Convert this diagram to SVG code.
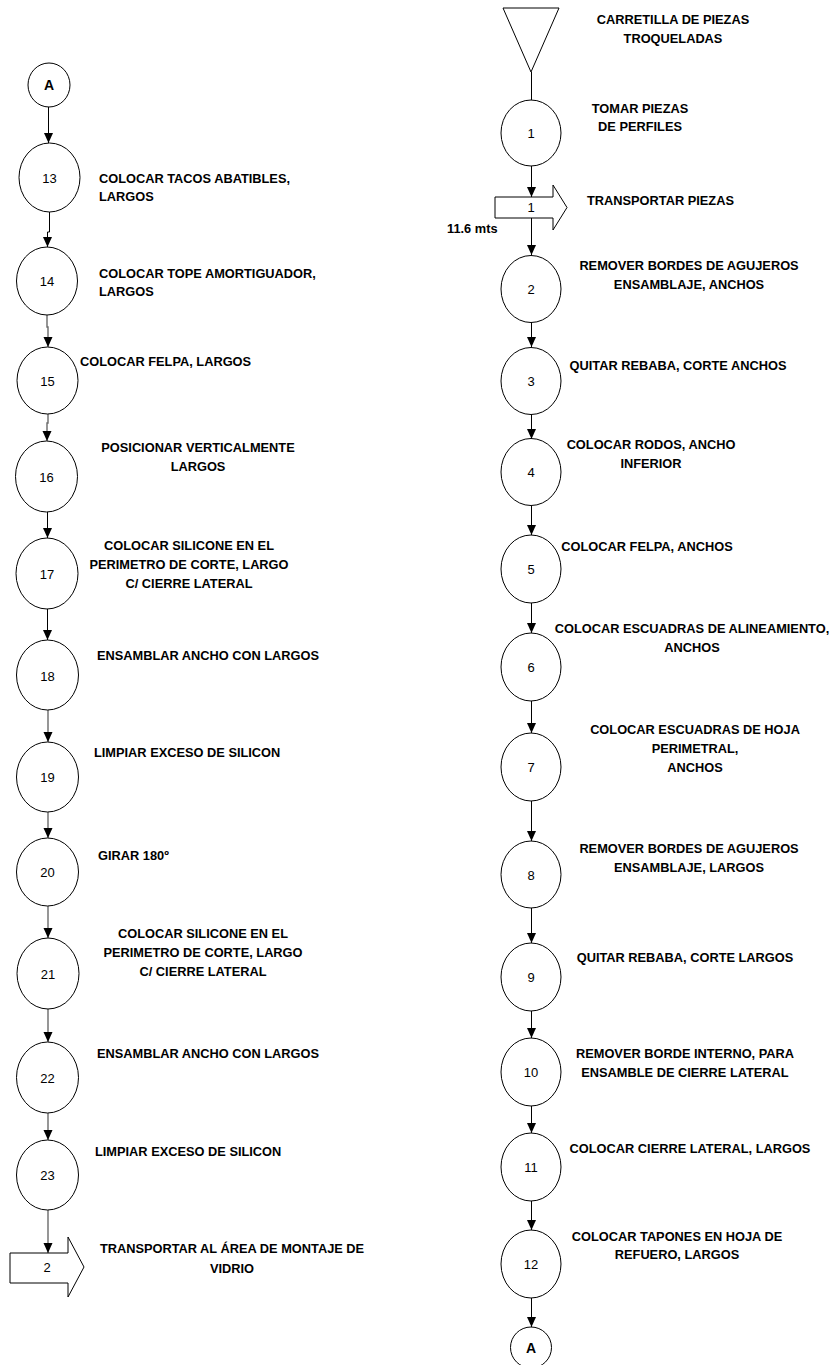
<svg xmlns="http://www.w3.org/2000/svg" width="833" height="1365" viewBox="0 0 833 1365">
  <defs>
    <marker id="arrow" markerUnits="userSpaceOnUse" markerWidth="10" markerHeight="10" refX="10" refY="5" orient="auto">
      <path d="M0,0.5 L10,5 L0,9.5 z" fill="#000"/>
    </marker>
    <style>
      .shape { fill: #fff; stroke: #000; stroke-width: 1; }
      .num { font-family: "Liberation Sans", Arial, sans-serif; font-size: 13px; fill: #000; text-anchor: middle; }
      .conn { font-family: "Liberation Sans", Arial, sans-serif; font-size: 14px; font-weight: bold; fill: #000; text-anchor: middle; }
      .lbl { font-family: "Liberation Sans", Arial, sans-serif; font-size: 12.8px; font-weight: bold; fill: #000; }
      .mid { text-anchor: middle; }
      .edge { fill: none; stroke: #000; stroke-width: 1; marker-end: url(#arrow); }
      .soft { stroke: #6a6a6a; stroke-width: 1.4; }
      .plain { fill: none; stroke: #000; stroke-width: 1; }
    </style>
  </defs>
  <rect width="833" height="1365" fill="#fff"/>

  <!-- connectors -->
  <g id="connectors">
    <!-- right column -->
    <line class="plain" x1="531.5" y1="72" x2="531.5" y2="100"/>
    <line class="edge" x1="531.5" y1="166" x2="531.5" y2="197"/>
    <line class="edge" x1="531.5" y1="218" x2="531.5" y2="255"/>
    <line class="edge" x1="531.5" y1="322" x2="531.5" y2="347"/>
    <line class="edge" x1="531.5" y1="414" x2="531.5" y2="439"/>
    <line class="edge" x1="531.5" y1="506" x2="531.5" y2="535"/>
    <line class="edge" x1="531.5" y1="603" x2="531.5" y2="633"/>
    <line class="edge" x1="531.5" y1="701" x2="531.5" y2="733"/>
    <line class="edge" x1="531.5" y1="801" x2="531.5" y2="841"/>
    <line class="edge" x1="531.5" y1="908" x2="531.5" y2="943"/>
    <line class="edge" x1="531.5" y1="1011" x2="531.5" y2="1038"/>
    <line class="edge" x1="531.5" y1="1106" x2="531.5" y2="1133"/>
    <line class="edge" x1="531.5" y1="1201" x2="531.5" y2="1230"/>
    <line class="edge" x1="531.5" y1="1298" x2="531.5" y2="1327"/>
    <!-- left column -->
    <line class="edge" x1="48.5" y1="107" x2="48.5" y2="143"/>
    <polyline class="edge" points="49.5,212 49.5,232 47.5,232 47.5,247"/>
    <polyline class="edge soft" points="47,315 47,327 48,327 48,347"/>
    <polyline class="edge soft" points="48,414 48,423 47,423 47,441"/>
    <line class="edge" x1="47.5" y1="512" x2="47.5" y2="538"/>
    <line class="edge" x1="47.5" y1="609" x2="47.5" y2="640"/>
    <line class="edge soft" x1="48" y1="710" x2="48" y2="742"/>
    <line class="edge soft" x1="48" y1="812" x2="48" y2="838"/>
    <line class="edge soft" x1="48" y1="906" x2="48" y2="938"/>
    <line class="edge soft" x1="48" y1="1009" x2="48" y2="1042"/>
    <line class="edge soft" x1="48" y1="1113" x2="48" y2="1140"/>
    <line class="edge soft" x1="48" y1="1210" x2="48" y2="1253"/>
  </g>

  <!-- right column -->
  <g id="storage-start">
    <polygon class="shape" points="503,8 559,8 531,72"/>
    <text class="lbl mid" x="673" y="24">CARRETILLA DE PIEZAS</text>
    <text class="lbl mid" x="673" y="43">TROQUELADAS</text>
  </g>
  <g id="op-1">
    <ellipse class="shape" cx="531" cy="133" rx="30" ry="33"/>
    <text class="num" x="531" y="138">1</text>
    <text class="lbl mid" x="640" y="113">TOMAR PIEZAS</text>
    <text class="lbl mid" x="640" y="131">DE PERFILES</text>
  </g>
  <g id="transport-1">
    <polygon class="shape" points="495,197 553,197 553,185 567,207.5 553,230 553,218 495,218"/>
    <text class="num" x="531" y="212">1</text>
    <text class="lbl" x="587" y="205">TRANSPORTAR PIEZAS</text>
    <text class="lbl" x="447" y="233">11.6 mts</text>
  </g>
  <g id="op-2">
    <ellipse class="shape" cx="531" cy="289" rx="30" ry="33.5"/>
    <text class="num" x="531" y="294">2</text>
    <text class="lbl mid" x="689" y="270">REMOVER BORDES DE AGUJEROS</text>
    <text class="lbl mid" x="689" y="289">ENSAMBLAJE, ANCHOS</text>
  </g>
  <g id="op-3">
    <ellipse class="shape" cx="531" cy="381" rx="30" ry="33.5"/>
    <text class="num" x="531" y="386">3</text>
    <text class="lbl mid" x="678" y="370">QUITAR REBABA, CORTE ANCHOS</text>
  </g>
  <g id="op-4">
    <ellipse class="shape" cx="531" cy="472" rx="30" ry="33.5"/>
    <text class="num" x="531" y="477">4</text>
    <text class="lbl mid" x="651" y="449">COLOCAR RODOS, ANCHO</text>
    <text class="lbl mid" x="651" y="468">INFERIOR</text>
  </g>
  <g id="op-5">
    <ellipse class="shape" cx="531" cy="569" rx="30" ry="34"/>
    <text class="num" x="531" y="574">5</text>
    <text class="lbl mid" x="647" y="551">COLOCAR FELPA, ANCHOS</text>
  </g>
  <g id="op-6">
    <ellipse class="shape" cx="531" cy="667" rx="30" ry="34"/>
    <text class="num" x="531" y="672">6</text>
    <text class="lbl mid" x="692" y="633">COLOCAR ESCUADRAS DE ALINEAMIENTO,</text>
    <text class="lbl mid" x="692" y="652">ANCHOS</text>
  </g>
  <g id="op-7">
    <ellipse class="shape" cx="531" cy="767" rx="30" ry="34"/>
    <text class="num" x="531" y="772">7</text>
    <text class="lbl mid" x="695" y="734">COLOCAR ESCUADRAS DE HOJA</text>
    <text class="lbl mid" x="695" y="753">PERIMETRAL,</text>
    <text class="lbl mid" x="695" y="772">ANCHOS</text>
  </g>
  <g id="op-8">
    <ellipse class="shape" cx="531" cy="874.5" rx="30" ry="33.5"/>
    <text class="num" x="531" y="880">8</text>
    <text class="lbl mid" x="689" y="853">REMOVER BORDES DE AGUJEROS</text>
    <text class="lbl mid" x="689" y="872">ENSAMBLAJE, LARGOS</text>
  </g>
  <g id="op-9">
    <ellipse class="shape" cx="531" cy="977" rx="30" ry="34"/>
    <text class="num" x="531" y="982">9</text>
    <text class="lbl mid" x="685" y="962">QUITAR REBABA, CORTE LARGOS</text>
  </g>
  <g id="op-10">
    <ellipse class="shape" cx="531" cy="1072" rx="30" ry="34"/>
    <text class="num" x="531" y="1077">10</text>
    <text class="lbl mid" x="685" y="1058">REMOVER BORDE INTERNO, PARA</text>
    <text class="lbl mid" x="685" y="1077">ENSAMBLE DE CIERRE LATERAL</text>
  </g>
  <g id="op-11">
    <ellipse class="shape" cx="531" cy="1167" rx="30" ry="34"/>
    <text class="num" x="531" y="1172">11</text>
    <text class="lbl mid" x="690" y="1153">COLOCAR CIERRE LATERAL, LARGOS</text>
  </g>
  <g id="op-12">
    <ellipse class="shape" cx="531" cy="1264" rx="30" ry="34"/>
    <text class="num" x="531" y="1269">12</text>
    <text class="lbl mid" x="677" y="1241">COLOCAR TAPONES EN HOJA DE</text>
    <text class="lbl mid" x="677" y="1259">REFUERO, LARGOS</text>
  </g>
  <g id="connector-a-out">
    <ellipse class="shape" cx="531" cy="1347.5" rx="20.5" ry="20.5"/>
    <text class="conn" x="531" y="1353">A</text>
  </g>

  <!-- left column -->
  <g id="connector-a-in">
    <ellipse class="shape" cx="49" cy="85" rx="21" ry="22"/>
    <text class="conn" x="49" y="90">A</text>
  </g>
  <g id="op-13">
    <ellipse class="shape" cx="49.5" cy="177.5" rx="30.5" ry="34.5"/>
    <text class="num" x="49.5" y="183">13</text>
    <text class="lbl" x="99" y="183">COLOCAR TACOS ABATIBLES,</text>
    <text class="lbl" x="99" y="201">LARGOS</text>
  </g>
  <g id="op-14">
    <ellipse class="shape" cx="47" cy="281" rx="30.5" ry="34"/>
    <text class="num" x="47" y="286">14</text>
    <text class="lbl" x="99" y="278">COLOCAR TOPE AMORTIGUADOR,</text>
    <text class="lbl" x="99" y="296">LARGOS</text>
  </g>
  <g id="op-15">
    <ellipse class="shape" cx="47.5" cy="380.5" rx="30.5" ry="33.5"/>
    <text class="num" x="47.5" y="386">15</text>
    <text class="lbl" x="80" y="366">COLOCAR FELPA, LARGOS</text>
  </g>
  <g id="op-16">
    <ellipse class="shape" cx="46.5" cy="476.5" rx="31" ry="35.5"/>
    <text class="num" x="46.5" y="482">16</text>
    <text class="lbl mid" x="198" y="452">POSICIONAR VERTICALMENTE</text>
    <text class="lbl mid" x="198" y="471">LARGOS</text>
  </g>
  <g id="op-17">
    <ellipse class="shape" cx="47" cy="573.5" rx="31" ry="35.5"/>
    <text class="num" x="47" y="579">17</text>
    <text class="lbl mid" x="189" y="550">COLOCAR SILICONE EN EL</text>
    <text class="lbl mid" x="189" y="569">PERIMETRO DE CORTE, LARGO</text>
    <text class="lbl mid" x="189" y="588">C/ CIERRE LATERAL</text>
  </g>
  <g id="op-18">
    <ellipse class="shape" cx="47.5" cy="675" rx="31" ry="35"/>
    <text class="num" x="47.5" y="681">18</text>
    <text class="lbl" x="97" y="660">ENSAMBLAR ANCHO CON LARGOS</text>
  </g>
  <g id="op-19">
    <ellipse class="shape" cx="47.5" cy="777" rx="31" ry="35"/>
    <text class="num" x="47.5" y="782">19</text>
    <text class="lbl" x="94" y="757">LIMPIAR EXCESO DE SILICON</text>
  </g>
  <g id="op-20">
    <ellipse class="shape" cx="47.5" cy="872" rx="31" ry="34"/>
    <text class="num" x="47.5" y="877">20</text>
    <text class="lbl" x="98" y="860">GIRAR 180º</text>
  </g>
  <g id="op-21">
    <ellipse class="shape" cx="48" cy="973.5" rx="31" ry="35.5"/>
    <text class="num" x="48" y="979">21</text>
    <text class="lbl mid" x="203" y="938">COLOCAR SILICONE EN EL</text>
    <text class="lbl mid" x="203" y="957">PERIMETRO DE CORTE, LARGO</text>
    <text class="lbl mid" x="203" y="976">C/ CIERRE LATERAL</text>
  </g>
  <g id="op-22">
    <ellipse class="shape" cx="47.5" cy="1077.5" rx="31" ry="35.5"/>
    <text class="num" x="47.5" y="1083">22</text>
    <text class="lbl" x="97" y="1058">ENSAMBLAR ANCHO CON LARGOS</text>
  </g>
  <g id="op-23">
    <ellipse class="shape" cx="47.5" cy="1175" rx="31" ry="35"/>
    <text class="num" x="47.5" y="1180">23</text>
    <text class="lbl" x="95" y="1156">LIMPIAR EXCESO DE SILICON</text>
  </g>
  <g id="transport-2">
    <polygon class="shape" points="10,1253 68,1253 68,1237 84,1267 68,1297 68,1283 10,1283"/>
    <text class="num" x="47" y="1272">2</text>
    <text class="lbl mid" x="232" y="1253">TRANSPORTAR AL ÁREA DE MONTAJE DE</text>
    <text class="lbl mid" x="232" y="1273">VIDRIO</text>
  </g>
</svg>
